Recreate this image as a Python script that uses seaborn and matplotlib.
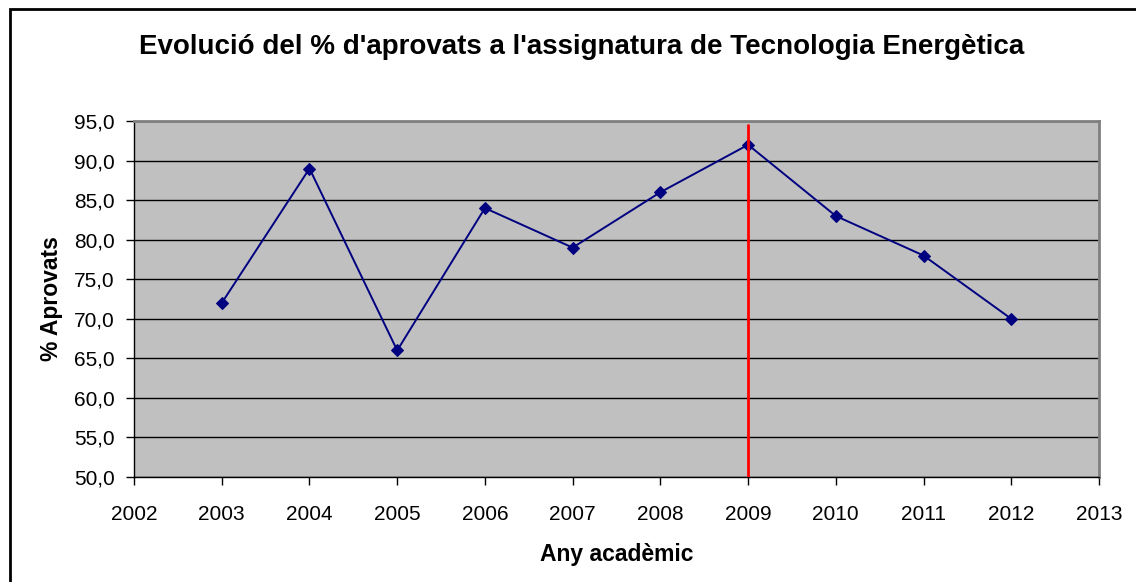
import pandas as pd
import matplotlib.pyplot as plt
import seaborn as sns

# Data
years = [2003, 2004, 2005, 2006, 2007, 2008, 2009, 2010, 2011, 2012]
pct_aprovats = [72, 89, 66, 84, 79, 86, 92, 83, 78, 70]
marked_year = 2009

df = pd.DataFrame({"year": years, "pct": pct_aprovats})

sns.set_style("white")
plt.rcParams['font.family'] = ['Liberation Sans', 'DejaVu Sans']
plt.rcParams['text.color'] = 'black'
plt.rcParams['axes.labelcolor'] = 'black'

fig = plt.figure(figsize=(11.36, 5.82), dpi=100)
ax = fig.add_axes([0.118, 0.1804, 0.8494, 0.6116])
ax.set_facecolor("#c0c0c0")

sns.lineplot(data=df, x="year", y="pct", ax=ax, color="#000080", linewidth=1.4,
             marker="D", markersize=6.5, markeredgecolor="#000080", zorder=3)

# red vertical mark
ax.plot([marked_year, marked_year], [50, 94.5], color="red", linewidth=2, zorder=4)

ax.set_xlim(2002, 2013)
ax.set_ylim(50, 95)
ax.set_xticks(range(2002, 2014))
yt = list(range(50, 96, 5))
ax.set_yticks(yt)
ax.set_yticklabels([f"{v:.1f}".replace(".", ",") for v in yt])
ax.yaxis.grid(True, color="black", linewidth=1)
ax.set_axisbelow(True)
ax.tick_params(axis="both", direction="out", length=6, width=1, colors="black",
               labelsize=15, left=True, bottom=True)
ax.tick_params(axis="x", pad=14)
ax.tick_params(axis="y", pad=8)

for side in ["left", "bottom"]:
    ax.spines[side].set_color("black")
    ax.spines[side].set_linewidth(1)
for side in ["top", "right"]:
    ax.spines[side].set_color("#808080")
    ax.spines[side].set_linewidth(2)

ax.set_xlabel("Any acadèmic", fontsize=16.5, fontweight="bold", labelpad=14)
ax.set_ylabel("% Aprovats", fontsize=16.5, fontweight="bold", labelpad=8)
fig.text(0.512, 0.92, "Evolució del % d'aprovats a l'assignatura de Tecnologia Energètica",
         ha="center", va="center", fontsize=20, fontweight="bold")

# outer chart frame
frame = plt.Rectangle((0.0085, -0.05), 1.2, 1.034, transform=fig.transFigure,
                      fill=False, edgecolor="black", linewidth=2)
fig.patches.append(frame)

fig.savefig("out.png", dpi=100)
